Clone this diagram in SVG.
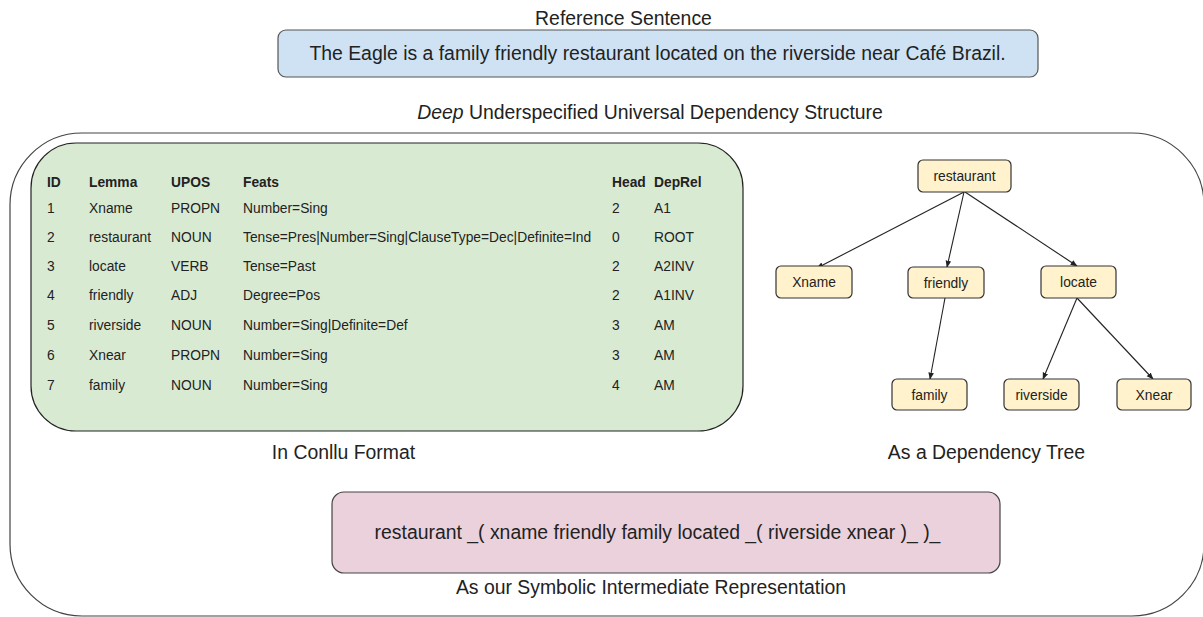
<svg xmlns="http://www.w3.org/2000/svg" width="1203" height="617" viewBox="0 0 1203 617">
<style>
text{font-family:"Liberation Sans",Arial,sans-serif;fill:#222}
.cap{font-size:19.4px;text-anchor:middle}
.th{font-size:13.8px;font-weight:bold}
.td{font-size:13.8px}
.node rect{fill:#fff2cc;stroke:#333;stroke-width:1.2}
.node text{font-size:13.8px;text-anchor:middle}
.edge{stroke:#222;stroke-width:1.1;fill:none;marker-end:url(#ah)}
</style>
<defs>
<marker id="ah" viewBox="0 0 10 10" refX="9" refY="5" markerWidth="7" markerHeight="7" orient="auto" markerUnits="userSpaceOnUse">
<path d="M0,1 L10,5 L0,9 z" fill="#222"/>
</marker>
</defs>
<rect width="1203" height="617" fill="#fff"/>
<g id="outer">
<rect x="10" y="133" width="1194" height="483" rx="72" ry="72" fill="none" stroke="#444" stroke-width="1.2"/>
</g>
<g id="reference">
<text class="cap" x="623.5" y="25">Reference Sentence</text>
<rect x="278" y="30" width="760" height="47" rx="8" fill="#cfe2f3" stroke="#555" stroke-width="1.2"/>
<text class="cap" x="657.5" y="60">The Eagle is a family friendly restaurant located on the riverside near Café Brazil.</text>
</g>
<text class="cap" x="650" y="119"><tspan font-style="italic">Deep</tspan> Underspecified Universal Dependency Structure</text>
<g id="conllu">
<rect x="31" y="143" width="712" height="288" rx="45" fill="#d9ead3" stroke="#222" stroke-width="1.2"/>
<g>
<text class="th" x="47" y="186.5">ID</text>
<text class="th" x="89" y="186.5">Lemma</text>
<text class="th" x="171" y="186.5">UPOS</text>
<text class="th" x="243" y="186.5">Feats</text>
<text class="th" x="612" y="186.5">Head</text>
<text class="th" x="654" y="186.5">DepRel</text>
</g>
<g>
<text class="td" x="47" y="212.5">1</text><text class="td" x="89" y="212.5">Xname</text><text class="td" x="171" y="212.5">PROPN</text><text class="td" x="243" y="212.5">Number=Sing</text><text class="td" x="612" y="212.5">2</text><text class="td" x="654" y="212.5">A1</text>
<text class="td" x="47" y="242">2</text><text class="td" x="89" y="242">restaurant</text><text class="td" x="171" y="242">NOUN</text><text class="td" x="243" y="242">Tense=Pres|Number=Sing|ClauseType=Dec|Definite=Ind</text><text class="td" x="612" y="242">0</text><text class="td" x="654" y="242">ROOT</text>
<text class="td" x="47" y="270.5">3</text><text class="td" x="89" y="270.5">locate</text><text class="td" x="171" y="270.5">VERB</text><text class="td" x="243" y="270.5">Tense=Past</text><text class="td" x="612" y="270.5">2</text><text class="td" x="654" y="270.5">A2INV</text>
<text class="td" x="47" y="300">4</text><text class="td" x="89" y="300">friendly</text><text class="td" x="171" y="300">ADJ</text><text class="td" x="243" y="300">Degree=Pos</text><text class="td" x="612" y="300">2</text><text class="td" x="654" y="300">A1INV</text>
<text class="td" x="47" y="330">5</text><text class="td" x="89" y="330">riverside</text><text class="td" x="171" y="330">NOUN</text><text class="td" x="243" y="330">Number=Sing|Definite=Def</text><text class="td" x="612" y="330">3</text><text class="td" x="654" y="330">AM</text>
<text class="td" x="47" y="360">6</text><text class="td" x="89" y="360">Xnear</text><text class="td" x="171" y="360">PROPN</text><text class="td" x="243" y="360">Number=Sing</text><text class="td" x="612" y="360">3</text><text class="td" x="654" y="360">AM</text>
<text class="td" x="47" y="390">7</text><text class="td" x="89" y="390">family</text><text class="td" x="171" y="390">NOUN</text><text class="td" x="243" y="390">Number=Sing</text><text class="td" x="612" y="390">4</text><text class="td" x="654" y="390">AM</text>
</g>
</g>
<text class="cap" x="343.5" y="459">In Conllu Format</text>
<g id="connectors">
<line class="edge" x1="964" y1="192" x2="817" y2="268"/>
<line class="edge" x1="964" y1="192" x2="947" y2="267"/>
<line class="edge" x1="965" y1="192" x2="1077" y2="266"/>
<line class="edge" x1="945" y1="298" x2="930" y2="379"/>
<line class="edge" x1="1077" y1="298" x2="1043" y2="379"/>
<line class="edge" x1="1077" y1="298" x2="1153" y2="379"/>
</g>
<g id="n-restaurant" class="node"><rect x="918" y="160" width="93" height="32" rx="5"/><text x="964.5" y="181">restaurant</text></g>
<g id="n-xname" class="node"><rect x="776" y="266" width="76" height="32" rx="5"/><text x="814" y="287">Xname</text></g>
<g id="n-friendly" class="node"><rect x="908" y="267" width="76" height="31" rx="5"/><text x="946" y="287.5">friendly</text></g>
<g id="n-locate" class="node"><rect x="1041" y="266" width="75" height="32" rx="5"/><text x="1078.5" y="287">locate</text></g>
<g id="n-family" class="node"><rect x="892" y="379" width="75" height="31" rx="5"/><text x="929.5" y="399.5">family</text></g>
<g id="n-riverside" class="node"><rect x="1004" y="379" width="75" height="31" rx="5"/><text x="1041.5" y="399.5">riverside</text></g>
<g id="n-xnear" class="node"><rect x="1117" y="379" width="74" height="31" rx="5"/><text x="1154" y="399.5">Xnear</text></g>
<text class="cap" x="986.5" y="459">As a Dependency Tree</text>
<g id="symbolic">
<rect x="332" y="492" width="668" height="81" rx="12" fill="#ead1dc" stroke="#444" stroke-width="1.2"/>
<text class="cap" x="657.5" y="539">restaurant _( xname friendly family located _( riverside xnear )_ )_</text>
</g>
<text class="cap" x="651" y="594">As our Symbolic Intermediate Representation</text>
</svg>
